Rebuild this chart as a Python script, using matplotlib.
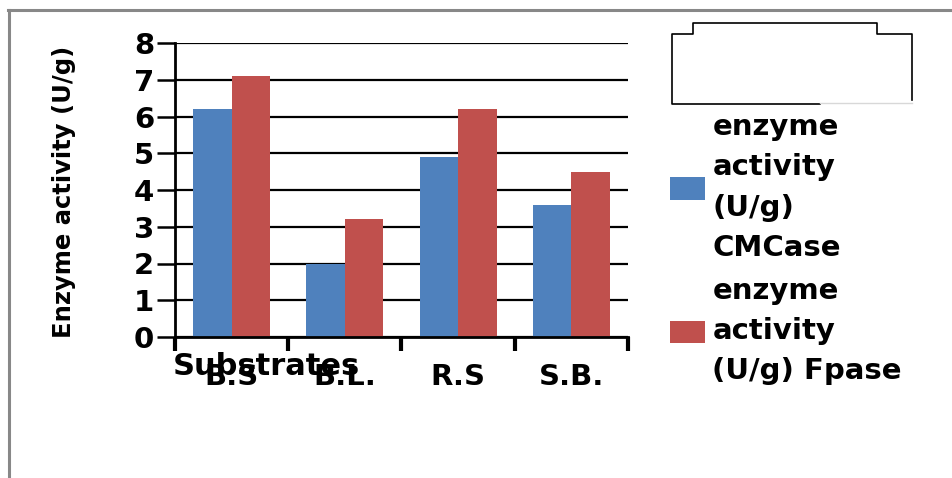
import matplotlib
matplotlib.use("Agg")
import matplotlib.pyplot as plt
import numpy as np
from matplotlib import font_manager as fm
from matplotlib.lines import Line2D

categories = ["B.S", "B.L.", "R.S", "S.B."]
cmcase = [6.2, 2.0, 4.9, 3.6]
fpase = [7.1, 3.2, 6.2, 4.5]
series_labels = ["enzyme\nactivity\n(U/g)\nCMCase", "enzyme\nactivity\n(U/g) Fpase"]
y_ticks = [0, 1, 2, 3, 4, 5, 6, 7, 8]

W, H = 953, 478
fig = plt.figure(figsize=(W / 100, H / 100), dpi=100)
plt.rcParams['font.family'] = ['DejaVu Sans']

def fx(px):
    return px / W

def fy(py):
    return 1 - py / H

ax = fig.add_axes([fx(175), fy(337), fx(628) - fx(175), fy(43) - fy(337)])

x = np.arange(len(categories))
bw = 0.34
ax.bar(x - bw / 2, cmcase, bw, color="#4F81BD", label=series_labels[0], zorder=3)
ax.bar(x + bw / 2, fpase, bw, color="#C0504D", label=series_labels[1], zorder=3)

ax.set_xlim(-0.5, len(categories) - 0.5)
ax.set_ylim(0, 8)
ax.set_yticks(y_ticks)
ax.yaxis.grid(True, color="black", linewidth=1.6, zorder=1)
ax.set_axisbelow(True)

for s in ["top", "right"]:
    ax.spines[s].set_visible(False)
for s in ["left", "bottom"]:
    ax.spines[s].set_linewidth(2.0)
    ax.spines[s].set_zorder(4)

ax.set_xticks(np.arange(-0.5, len(categories), 1.0))
ax.set_xticklabels([])
ax.set_xticks(x, minor=True)
ax.set_xticklabels(categories, minor=True, fontsize=21, fontweight="bold")
ax.tick_params(axis="x", which="major", direction="out", length=10, width=3, color="black")
ax.tick_params(axis="x", which="minor", length=0, pad=19)
ax.tick_params(axis="y", direction="out", length=13, width=1.8, pad=2, labelsize=21)
for lab in ax.get_yticklabels():
    lab.set_fontweight("bold")

ax.set_xlabel("Substrates", fontsize=22, fontweight="bold", va="baseline")
ax.xaxis.set_label_coords((266 - 175) / 453, (337 - 375) / 294)

names = {f.name for f in fm.fontManager.ttflist}
if "Liberation Sans Narrow" in names:
    yfam, ysize = "Liberation Sans Narrow", 22
else:
    yfam, ysize = "DejaVu Sans", 17.5
fig.text(fx(64), fy(192), "Enzyme activity (U/g)", rotation=90, ha="center", va="center",
         fontsize=ysize, fontweight="bold", family=yfam)

leg = fig.legend(loc="upper left", bbox_to_anchor=(fx(670), fy(113)), frameon=False,
                 prop={"size": 21, "weight": "bold"}, handlelength=1.2, handleheight=0.8,
                 handletextpad=0.25, labelspacing=0.5, borderaxespad=0, borderpad=0)
for t in leg.get_texts():
    t.set_linespacing(1.56)

# empty legend-title box
bx = [820, 672, 672, 693, 693, 877, 877, 912, 912]
by = [104, 104, 34, 34, 23, 23, 34, 34, 100]
fig.add_artist(Line2D([fx(v) for v in bx], [fy(v) for v in by], color="black", linewidth=1.2))
fig.add_artist(Line2D([fx(820), fx(912)], [fy(103), fy(103)], color="#d8d8d8", linewidth=1.0))

# outer frame
fig.add_artist(Line2D([fx(8), fx(953)], [fy(10), fy(10)], color="#888888", linewidth=2.2))
fig.add_artist(Line2D([fx(9), fx(9)], [fy(10), fy(478)], color="#888888", linewidth=2.2))

fig.savefig("out.png", dpi=100)
